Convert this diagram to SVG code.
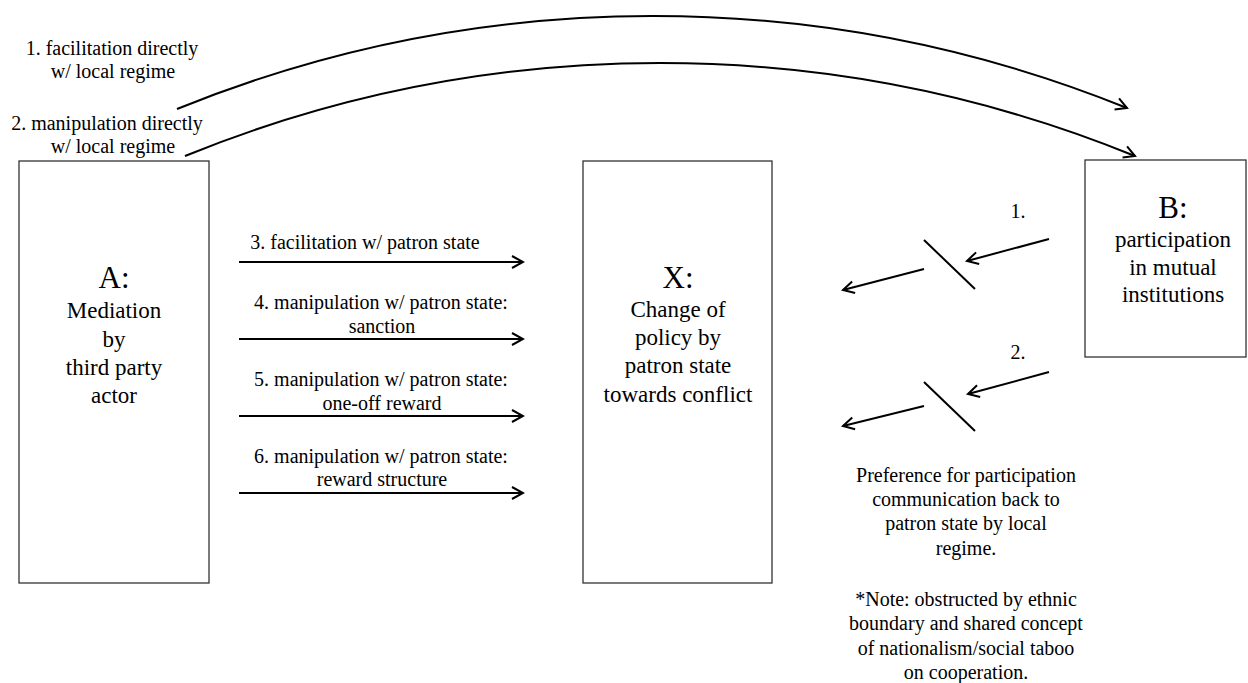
<svg xmlns="http://www.w3.org/2000/svg" width="1248" height="683" viewBox="0 0 1248 683">
<style>
text{fill:#000;text-anchor:middle}
.lbl{font-size:20px}
.bt{font-size:23px}
.big{font-size:31px}
.box{fill:#fff;stroke:#333;stroke-width:1.3}
.ln{fill:none;stroke:#000;stroke-width:2}
</style>
<defs>
<marker id="ah" viewBox="-13 -8 15 16" refX="0" refY="0" markerWidth="15" markerHeight="16" markerUnits="userSpaceOnUse" orient="auto">
<path d="M-11,-6 L0,0 L-11,6" fill="none" stroke="#000" stroke-width="2"/>
</marker>
</defs>
<rect width="1248" height="683" fill="#fff"/>
<g font-family="'Liberation Serif', Tinos, 'DejaVu Serif', 'Times New Roman', serif">
<g id="nodeA">
<rect class="box" x="19" y="161" width="190" height="422"/>
<text class="big" x="114" y="288">A:</text>
<text class="bt" x="114" y="318">Mediation</text>
<text class="bt" x="114" y="347">by</text>
<text class="bt" x="114" y="375">third party</text>
<text class="bt" x="114" y="403">actor</text>
</g>
<g id="nodeX">
<rect class="box" x="583" y="161" width="189" height="422"/>
<text class="big" x="678" y="288">X:</text>
<text class="bt" x="678" y="317">Change of</text>
<text class="bt" x="678" y="345">policy by</text>
<text class="bt" x="678" y="373">patron state</text>
<text class="bt" x="678" y="402">towards conflict</text>
</g>
<g id="nodeB">
<rect class="box" x="1085" y="160" width="161" height="197"/>
<text class="big" x="1173" y="218">B:</text>
<text class="bt" x="1173" y="247">participation</text>
<text class="bt" x="1173" y="275">in mutual</text>
<text class="bt" x="1173" y="302">institutions</text>
</g>
<g id="connectors">
<path class="ln" d="M177,109 A1266,1266 0 0 1 1127,108" marker-end="url(#ah)"/>
<path class="ln" d="M185,156 A1260,1260 0 0 1 1135,156" marker-end="url(#ah)"/>
<line class="ln" x1="239" y1="262" x2="523" y2="262" marker-end="url(#ah)"/>
<line class="ln" x1="239" y1="339" x2="523" y2="339" marker-end="url(#ah)"/>
<line class="ln" x1="239" y1="416" x2="523" y2="416" marker-end="url(#ah)"/>
<line class="ln" x1="239" y1="493" x2="523" y2="493" marker-end="url(#ah)"/>
<line class="ln" x1="1049" y1="239" x2="967" y2="261" marker-end="url(#ah)"/>
<line class="ln" x1="924" y1="240" x2="975" y2="289"/>
<line class="ln" x1="924" y1="269" x2="843" y2="290" marker-end="url(#ah)"/>
<line class="ln" x1="1049" y1="372" x2="968" y2="394" marker-end="url(#ah)"/>
<line class="ln" x1="924" y1="382" x2="975" y2="431"/>
<line class="ln" x1="924" y1="406" x2="843" y2="426" marker-end="url(#ah)"/>
</g>
<g id="labels">
<text class="lbl" x="112" y="55">1. facilitation directly</text>
<text class="lbl" x="113" y="78">w/ local regime</text>
<text class="lbl" x="107" y="130">2. manipulation directly</text>
<text class="lbl" x="113" y="153">w/ local regime</text>
<text class="lbl" x="365" y="249">3. facilitation w/ patron state</text>
<text class="lbl" x="381" y="309">4. manipulation w/ patron state:</text>
<text class="lbl" x="382" y="333">sanction</text>
<text class="lbl" x="381" y="386">5. manipulation w/ patron state:</text>
<text class="lbl" x="382" y="410">one-off reward</text>
<text class="lbl" x="381" y="463">6. manipulation w/ patron state:</text>
<text class="lbl" x="382" y="486">reward structure</text>
<text class="lbl" x="1018" y="218">1.</text>
<text class="lbl" x="1018" y="359">2.</text>
<text class="lbl" x="966" y="482">Preference for participation</text>
<text class="lbl" x="966" y="506">communication back to</text>
<text class="lbl" x="966" y="530">patron state by local</text>
<text class="lbl" x="966" y="555">regime.</text>
<text class="lbl" x="966" y="606">*Note: obstructed by ethnic</text>
<text class="lbl" x="966" y="630">boundary and shared concept</text>
<text class="lbl" x="966" y="655">of nationalism/social taboo</text>
<text class="lbl" x="966" y="679">on cooperation.</text>
</g>
</g>
</svg>
